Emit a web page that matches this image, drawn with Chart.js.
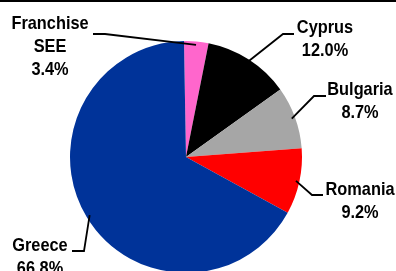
<!DOCTYPE html>
<html>
<head>
<meta charset="utf-8">
<script src="https://cdn.jsdelivr.net/npm/chart.js@4/dist/chart.umd.min.js"></script>
<style>
  html, body { margin: 0; padding: 0; background: #fff; overflow: hidden; }
  #wrap { position: absolute; left: 0; top: 0; width: 396px; height: 300px; }
</style>
</head>
<body>
<div id="wrap"><canvas id="c" width="396" height="300"></canvas></div>
<script>
// ---- data ----
const categories = ["Franchise SEE", "Cyprus", "Bulgaria", "Romania", "Greece"];
const labelLines = [["Franchise", "SEE"], ["Cyprus"], ["Bulgaria"], ["Romania"], ["Greece"]];
const shares = [3.4, 12.0, 8.7, 9.2, 66.8];
const colors = ["#FF66CC", "#000000", "#A6A6A6", "#FF0000", "#003399"];

// ---- label layout (text anchor centre x, first baseline y, leader elbow, leader end) ----
const labelLayout = [
  { x: 50,  y: 29,  elbow: [105, 34], tail: [93, 34] },
  { x: 325, y: 33,  elbow: [283, 34], tail: [294, 34] },
  { x: 360, y: 95,  elbow: [314, 96], tail: [326, 96] },
  { x: 360, y: 195, elbow: [312, 195], tail: [323, 195] },
  { x: 40,  y: 251, elbow: [84, 251], tail: [72, 251] }
];

const FONT = 'bold 19px "Liberation Sans Narrow", "Arial Narrow", "Liberation Sans", Arial, sans-serif';
const SQUEEZE = 0.86;

const labelPlugin = {
  id: 'pieLabels',
  afterDraw(chart) {
    const ctx = chart.ctx;
    ctx.save();
    // top rule
    ctx.fillStyle = '#000';
    ctx.fillRect(0, 0, chart.width, 2);
    const meta = chart.getDatasetMeta(0);
    meta.data.forEach((arc, i) => {
      const p = arc.getProps(['x', 'y', 'startAngle', 'endAngle', 'outerRadius'], true);
      const mid = (p.startAngle + p.endAngle) / 2;
      const r = p.outerRadius * 0.97;
      const ax = p.x + Math.cos(mid) * r;
      const ay = p.y + Math.sin(mid) * r;
      const L = labelLayout[i];
      ctx.strokeStyle = '#000';
      ctx.lineWidth = 1.8;
      ctx.beginPath();
      ctx.moveTo(ax, ay);
      ctx.lineTo(L.elbow[0], L.elbow[1]);
      ctx.lineTo(L.tail[0], L.tail[1]);
      ctx.stroke();
      ctx.fillStyle = '#000';
      ctx.font = FONT;
      ctx.textAlign = 'center';
      ctx.textBaseline = 'alphabetic';
      const lines = labelLines[i].concat([shares[i].toFixed(1) + '%']);
      lines.forEach((t, k) => {
        ctx.save();
        ctx.translate(L.x, L.y + k * 23);
        ctx.scale(SQUEEZE, 1);
        ctx.fillText(t, 0, 0);
        ctx.restore();
      });
    });
    ctx.restore();
  }
};

new Chart(document.getElementById('c'), {
  type: 'pie',
  data: {
    labels: categories,
    datasets: [{
      data: shares,
      backgroundColor: colors,
      borderWidth: 0,
      hoverOffset: 0
    }]
  },
  options: {
    responsive: false,
    animation: false,
    rotation: -1,
    layout: { padding: { left: 70, right: 94, top: 40, bottom: 26 } },
    plugins: { legend: { display: false }, tooltip: { enabled: false } },
    events: []
  },
  plugins: [labelPlugin]
});
</script>
</body>
</html>
